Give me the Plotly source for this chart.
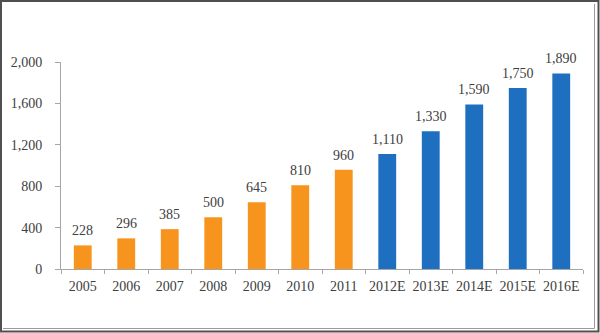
import plotly.graph_objects as go

categories = ["2005", "2006", "2007", "2008", "2009", "2010", "2011",
              "2012E", "2013E", "2014E", "2015E", "2016E"]
values = [228, 296, 385, 500, 645, 810, 960, 1110, 1330, 1590, 1750, 1890]
bar_colors = ["#F7941D"] * 7 + ["#1F6FC1"] * 5
y_ticks = [0, 400, 800, 1200, 1600, 2000]

FONT = "Liberation Serif, Times New Roman, serif"
TXT = "#404040"

fig = go.Figure(go.Bar(
    x=categories, y=values,
    marker=dict(color=bar_colors, line=dict(width=0)),
    width=0.41,
    cliponaxis=False,
))

for i, v in enumerate(values):
    fig.add_annotation(x=i, y=v, text=f"{v:,}", showarrow=False,
                       yanchor="bottom", yshift=5,
                       font=dict(family=FONT, size=14, color=TXT))

W, H = 600, 333
L, R, T, B = 61, 17, 62, 64
pw, ph = W - L - R, H - T - B

def px(x):
    return (x - L) / pw

def py(y):
    return (H - B - y) / ph

shapes = [
    dict(type="line", xref="paper", yref="paper", x0=px(594.5), x1=px(594.5),
         y0=py(4), y1=py(328.5), line=dict(color="#9A9A9A", width=1)),
    dict(type="line", xref="paper", yref="paper", x0=px(3), x1=px(594.5),
         y0=py(328.5), y1=py(328.5), line=dict(color="#9A9A9A", width=1)),
    dict(type="rect", xref="paper", yref="paper", x0=px(1), x1=px(598.5),
         y0=py(1), y1=py(331.5), line=dict(color="#505050", width=2),
         fillcolor="rgba(0,0,0,0)"),
]

fig.update_layout(
    width=W, height=H,
    margin=dict(l=L, r=R, t=T, b=B),
    paper_bgcolor="white", plot_bgcolor="white",
    showlegend=False,
    shapes=shapes,
    font=dict(family=FONT, size=14, color=TXT),
)
fig.update_xaxes(
    type="category", range=[-0.5, 11.5],
    showline=True, linecolor="#A6A6A6", linewidth=1,
    ticks="outside", tickson="boundaries", ticklen=4, tickcolor="#A6A6A6",
    showgrid=False, zeroline=False, tickangle=0,
    ticklabelstandoff=4,
    tickfont=dict(family=FONT, size=14, color=TXT),
)
fig.update_yaxes(
    range=[0, 2000], tickvals=y_ticks, tickformat=",",
    showline=True, linecolor="#A6A6A6", linewidth=1,
    ticks="outside", ticklen=5, tickcolor="#A6A6A6",
    showgrid=False, zeroline=False,
    ticklabelstandoff=10,
    tickfont=dict(family=FONT, size=14, color=TXT),
)

fig.write_html("out.html")
